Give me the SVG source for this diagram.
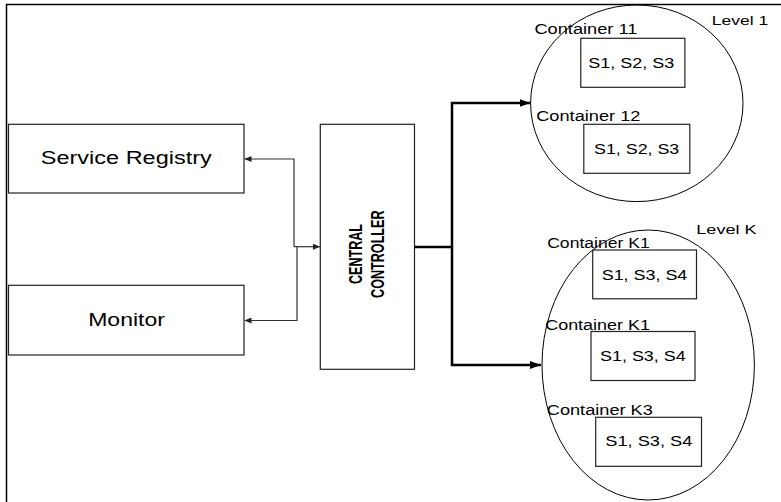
<svg xmlns="http://www.w3.org/2000/svg" width="781" height="502" viewBox="0 0 781 502">
<defs>
<marker id="thin" markerWidth="7" markerHeight="6" refX="7" refY="3" orient="auto" markerUnits="userSpaceOnUse"><path d="M0,0 L7,3 L0,6 Z" fill="#222"/></marker>
<marker id="thick" markerWidth="11" markerHeight="8" refX="11" refY="4" orient="auto" markerUnits="userSpaceOnUse"><path d="M0,0 L11,4 L0,8 Z" fill="#000"/></marker>
</defs>
<style>
.frame{fill:none;stroke:#000;stroke-width:1.5}
.box{fill:#fff;stroke:#222;stroke-width:1.2}
.ell{fill:none;stroke:#000;stroke-width:1}
.t{font-family:"Liberation Sans",Arial,sans-serif;fill:#000}
.big{font-size:17.5px}
.lbl{font-size:14px}
.lvl{font-size:13.5px}
.cc{font-size:12.5px;font-weight:bold}
.thin{fill:none;stroke:#333;stroke-width:1.2}
.thick{fill:none;stroke:#000;stroke-width:2.5}
</style>
<rect class="frame" x="6.5" y="4.5" width="800" height="600"/>

<g id="service-registry">
<rect class="box" x="8.5" y="124.3" width="235.5" height="68.7"/>
<text class="t big" x="40.8" y="164.3" textLength="171" lengthAdjust="spacingAndGlyphs">Service Registry</text>
</g>
<g id="monitor">
<rect class="box" x="8.5" y="285.3" width="235.5" height="69.7"/>
<text class="t big" x="88.2" y="325.7" textLength="76.7" lengthAdjust="spacingAndGlyphs">Monitor</text>
</g>
<g id="central-controller">
<rect class="box" x="320.3" y="124.3" width="94.2" height="245"/>
<text class="t cc" text-anchor="middle" transform="translate(361.5,254) rotate(-90) scale(1,1.45)" textLength="60" lengthAdjust="spacingAndGlyphs">CENTRAL</text>
<text class="t cc" text-anchor="middle" transform="translate(384,254.2) rotate(-90) scale(1,1.45)" textLength="87.5" lengthAdjust="spacingAndGlyphs">CONTROLLER</text>
</g>

<g id="level-1">
<ellipse class="ell" cx="636.8" cy="103.3" rx="106.2" ry="98.3"/>
<text class="t lvl" x="711.7" y="25" textLength="56.5" lengthAdjust="spacingAndGlyphs">Level 1</text>
</g>
<g id="container-11">
<rect class="box" x="580.8" y="38.3" width="104.1" height="49"/>
<text class="t lbl" x="534.4" y="34.3" textLength="103" lengthAdjust="spacingAndGlyphs">Container 11</text>
<text class="t lbl" x="588.3" y="67.7" textLength="86" lengthAdjust="spacingAndGlyphs">S1, S2, S3</text>
</g>
<g id="container-12">
<rect class="box" x="583.8" y="124.3" width="106" height="49"/>
<text class="t lbl" x="536.2" y="121.3" textLength="104.3" lengthAdjust="spacingAndGlyphs">Container 12</text>
<text class="t lbl" x="594" y="153.5" textLength="85.3" lengthAdjust="spacingAndGlyphs">S1, S2, S3</text>
</g>

<g id="level-k">
<ellipse class="ell" cx="648.2" cy="365" rx="106.2" ry="135"/>
<text class="t lvl" x="696.3" y="233.8" textLength="60.3" lengthAdjust="spacingAndGlyphs">Level K</text>
</g>
<g id="container-k1a">
<rect class="box" x="592.7" y="250" width="103.8" height="48.8"/>
<text class="t lbl" x="547.2" y="248" textLength="102.5" lengthAdjust="spacingAndGlyphs">Container K1</text>
<text class="t lbl" x="601.7" y="279.5" textLength="85.6" lengthAdjust="spacingAndGlyphs">S1, S3, S4</text>
</g>
<g id="container-k1b">
<rect class="box" x="591" y="331.5" width="104" height="49"/>
<text class="t lbl" x="545.2" y="329.5" textLength="104.8" lengthAdjust="spacingAndGlyphs">Container K1</text>
<text class="t lbl" x="600" y="360.5" textLength="85.7" lengthAdjust="spacingAndGlyphs">S1, S3, S4</text>
</g>
<g id="container-k3">
<rect class="box" x="595.7" y="417.3" width="105.8" height="49"/>
<text class="t lbl" x="546.8" y="415" textLength="106" lengthAdjust="spacingAndGlyphs">Container K3</text>
<text class="t lbl" x="605.3" y="446.3" textLength="87" lengthAdjust="spacingAndGlyphs">S1, S3, S4</text>
</g>

<g id="connectors">
<path class="thin" d="M294,246.7 L294,159 L244.5,159" marker-end="url(#thin)"/>
<path class="thin" d="M294,246.7 L320,246.7" marker-end="url(#thin)"/>
<path class="thin" d="M297,246.7 L297,320.5 L244.5,320.5" marker-end="url(#thin)"/>
<path class="thick" d="M414.5,247 L452,247"/>
<path class="thick" d="M452,247 L452,103 L530.5,103" marker-end="url(#thick)"/>
<path class="thick" d="M452,247 L452,365 L541,365" marker-end="url(#thick)"/>
</g>
</svg>
